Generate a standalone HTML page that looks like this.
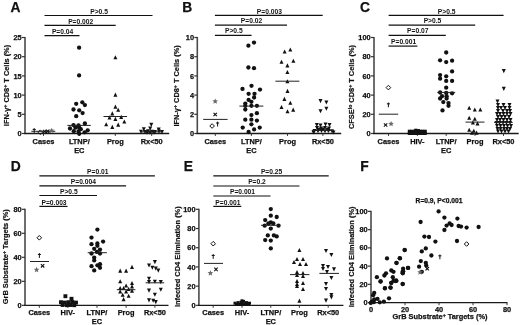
<!DOCTYPE html>
<html><head><meta charset="utf-8"><style>
html,body{margin:0;padding:0;background:#fff;}
svg{display:block;font-family:"Liberation Sans", sans-serif;filter:blur(0.3px);}
</style></head><body>
<svg width="520" height="325" viewBox="0 0 520 325">
<rect width="520" height="325" fill="#fff"/>
<text x="10.40" y="11.60" font-size="13.8" text-anchor="start" font-weight="bold" fill="#111" stroke="#111" stroke-width="0.25">A</text>
<text x="182.30" y="11.60" font-size="13.8" text-anchor="start" font-weight="bold" fill="#111" stroke="#111" stroke-width="0.25">B</text>
<text x="359.90" y="11.80" font-size="13.8" text-anchor="start" font-weight="bold" fill="#111" stroke="#111" stroke-width="0.25">C</text>
<text x="10.70" y="170.90" font-size="13.8" text-anchor="start" font-weight="bold" fill="#111" stroke="#111" stroke-width="0.25">D</text>
<text x="183.80" y="170.90" font-size="13.8" text-anchor="start" font-weight="bold" fill="#111" stroke="#111" stroke-width="0.25">E</text>
<text x="360.30" y="170.90" font-size="13.8" text-anchor="start" font-weight="bold" fill="#111" stroke="#111" stroke-width="0.25">F</text>
<line x1="25.00" y1="36.90" x2="25.00" y2="133.50" stroke="#4a4a4a" stroke-width="1.6"/>
<line x1="22.00" y1="133.50" x2="25.00" y2="133.50" stroke="#333" stroke-width="1.2"/>
<text x="21.70" y="136.10" font-size="7.4" text-anchor="end" font-weight="bold" fill="#111" stroke="#111" stroke-width="0.25">0</text>
<line x1="22.00" y1="114.30" x2="25.00" y2="114.30" stroke="#333" stroke-width="1.2"/>
<text x="21.70" y="116.90" font-size="7.4" text-anchor="end" font-weight="bold" fill="#111" stroke="#111" stroke-width="0.25">5</text>
<line x1="22.00" y1="95.10" x2="25.00" y2="95.10" stroke="#333" stroke-width="1.2"/>
<text x="21.70" y="97.70" font-size="7.4" text-anchor="end" font-weight="bold" fill="#111" stroke="#111" stroke-width="0.25">10</text>
<line x1="22.00" y1="75.90" x2="25.00" y2="75.90" stroke="#333" stroke-width="1.2"/>
<text x="21.70" y="78.50" font-size="7.4" text-anchor="end" font-weight="bold" fill="#111" stroke="#111" stroke-width="0.25">15</text>
<line x1="22.00" y1="56.70" x2="25.00" y2="56.70" stroke="#333" stroke-width="1.2"/>
<text x="21.70" y="59.30" font-size="7.4" text-anchor="end" font-weight="bold" fill="#111" stroke="#111" stroke-width="0.25">20</text>
<line x1="22.00" y1="37.50" x2="25.00" y2="37.50" stroke="#333" stroke-width="1.2"/>
<text x="21.70" y="40.10" font-size="7.4" text-anchor="end" font-weight="bold" fill="#111" stroke="#111" stroke-width="0.25">25</text>
<line x1="24.20" y1="133.50" x2="169.20" y2="133.50" stroke="#1a1a1a" stroke-width="1.3"/>
<line x1="43.50" y1="133.50" x2="43.50" y2="135.90" stroke="#333" stroke-width="1.0"/>
<text x="43.50" y="143.90" font-size="7.4" text-anchor="middle" font-weight="bold" fill="#111" stroke="#111" stroke-width="0.25">Cases</text>
<line x1="79.30" y1="133.50" x2="79.30" y2="135.90" stroke="#333" stroke-width="1.0"/>
<text x="79.30" y="143.90" font-size="7.4" text-anchor="middle" font-weight="bold" fill="#111" stroke="#111" stroke-width="0.25">LTNP/</text>
<text x="79.30" y="152.50" font-size="7.4" text-anchor="middle" font-weight="bold" fill="#111" stroke="#111" stroke-width="0.25">EC</text>
<line x1="115.30" y1="133.50" x2="115.30" y2="135.90" stroke="#333" stroke-width="1.0"/>
<text x="115.30" y="143.90" font-size="7.4" text-anchor="middle" font-weight="bold" fill="#111" stroke="#111" stroke-width="0.25">Prog</text>
<line x1="151.70" y1="133.50" x2="151.70" y2="135.90" stroke="#333" stroke-width="1.0"/>
<text x="151.70" y="143.90" font-size="7.4" text-anchor="middle" font-weight="bold" fill="#111" stroke="#111" stroke-width="0.25">Rx&lt;50</text>
<line x1="44.50" y1="15.50" x2="152.50" y2="15.50" stroke="#111" stroke-width="1.2"/>
<text x="99.10" y="13.60" font-size="6.7" text-anchor="middle" font-weight="bold" fill="#111" stroke="#111" stroke-width="0">P&gt;0.5</text>
<line x1="44.50" y1="25.40" x2="115.70" y2="25.40" stroke="#111" stroke-width="1.2"/>
<text x="80.70" y="23.50" font-size="6.7" text-anchor="middle" font-weight="bold" fill="#111" stroke="#111" stroke-width="0">P=0.002</text>
<line x1="44.50" y1="35.60" x2="79.50" y2="35.60" stroke="#111" stroke-width="1.2"/>
<text x="62.60" y="33.70" font-size="6.7" text-anchor="middle" font-weight="bold" fill="#111" stroke="#111" stroke-width="0">P=0.04</text>
<g transform="translate(8.50 85.50) rotate(-90) scale(1 0.92)"><text x="0" y="0" font-size="7.4" text-anchor="middle" font-weight="bold" fill="#111" stroke="#111" stroke-width="0.22">IFN-γ<tspan font-size="70%" baseline-shift="2.4">+</tspan> CD8<tspan font-size="70%" baseline-shift="2.4">+</tspan> T Cells (%)</text></g>
<line x1="31.30" y1="131.30" x2="55.30" y2="131.30" stroke="#222" stroke-width="1.0"/>
<path d="M34.20 128.10L34.20 132.90M32.66 129.44L35.74 129.44" stroke="#111" stroke-width="1.0"/>
<path d="M40.30 129.90L42.60 132.20L40.30 134.50L38.00 132.20Z" fill="none" stroke="#111" stroke-width="1.0"/>
<path d="M42.90 129.80L46.30 133.20M46.30 129.80L42.90 133.20" stroke="#111" stroke-width="1.1"/>
<path d="M46.00 129.60L49.40 133.00M49.40 129.60L46.00 133.00" stroke="#111" stroke-width="1.1"/>
<path d="M51.70 127.70L52.49 129.61L54.55 129.77L52.98 131.12L53.46 133.13L51.70 132.05L49.94 133.13L50.42 131.12L48.85 129.77L50.91 129.61Z" fill="#6a6a6a"/>
<circle cx="79.10" cy="47.70" r="2.15" fill="#111"/>
<circle cx="79.10" cy="75.40" r="2.15" fill="#111"/>
<circle cx="76.20" cy="103.80" r="2.15" fill="#111"/>
<circle cx="82.30" cy="102.30" r="2.15" fill="#111"/>
<circle cx="84.90" cy="105.10" r="2.15" fill="#111"/>
<circle cx="73.50" cy="109.50" r="2.15" fill="#111"/>
<circle cx="79.20" cy="110.30" r="2.15" fill="#111"/>
<circle cx="82.60" cy="113.10" r="2.15" fill="#111"/>
<circle cx="76.20" cy="116.20" r="2.15" fill="#111"/>
<circle cx="73.50" cy="125.10" r="2.15" fill="#111"/>
<circle cx="78.50" cy="125.40" r="2.15" fill="#111"/>
<circle cx="84.90" cy="123.50" r="2.15" fill="#111"/>
<circle cx="70.00" cy="128.50" r="2.15" fill="#111"/>
<circle cx="75.40" cy="127.70" r="2.15" fill="#111"/>
<circle cx="79.20" cy="127.70" r="2.15" fill="#111"/>
<circle cx="80.80" cy="129.20" r="2.15" fill="#111"/>
<circle cx="87.70" cy="130.30" r="2.15" fill="#111"/>
<circle cx="73.80" cy="131.20" r="2.15" fill="#111"/>
<circle cx="78.50" cy="131.50" r="2.15" fill="#111"/>
<circle cx="84.60" cy="132.30" r="2.15" fill="#111"/>
<circle cx="79.20" cy="133.80" r="2.15" fill="#111"/>
<line x1="67.40" y1="125.40" x2="90.80" y2="125.40" stroke="#222" stroke-width="1.0"/>
<path d="M113.40 59.24L117.40 59.24L115.40 55.16Z" fill="#111"/>
<path d="M113.40 96.64L117.40 96.64L115.40 92.56Z" fill="#111"/>
<path d="M113.40 108.64L117.40 108.64L115.40 104.56Z" fill="#111"/>
<path d="M116.20 111.74L120.20 111.74L118.20 107.66Z" fill="#111"/>
<path d="M110.30 115.44L114.30 115.44L112.30 111.36Z" fill="#111"/>
<path d="M107.50 119.44L111.50 119.44L109.50 115.36Z" fill="#111"/>
<path d="M113.40 120.94L117.40 120.94L115.40 116.86Z" fill="#111"/>
<path d="M119.20 118.94L123.20 118.94L121.20 114.86Z" fill="#111"/>
<path d="M122.30 123.54L126.30 123.54L124.30 119.46Z" fill="#111"/>
<path d="M104.20 126.24L108.20 126.24L106.20 122.16Z" fill="#111"/>
<path d="M116.20 126.64L120.20 126.64L118.20 122.56Z" fill="#111"/>
<path d="M110.30 128.94L114.30 128.94L112.30 124.86Z" fill="#111"/>
<line x1="103.50" y1="116.50" x2="127.10" y2="116.50" stroke="#222" stroke-width="1.0"/>
<path d="M149.30 122.86L153.30 122.86L151.30 126.94Z" fill="#111"/>
<path d="M141.80 127.26L145.80 127.26L143.80 131.34Z" fill="#111"/>
<path d="M148.20 126.56L152.20 126.56L150.20 130.64Z" fill="#111"/>
<path d="M156.70 127.56L160.70 127.56L158.70 131.64Z" fill="#111"/>
<path d="M139.00 129.76L143.00 129.76L141.00 133.84Z" fill="#111"/>
<path d="M143.00 129.96L147.00 129.96L145.00 134.04Z" fill="#111"/>
<path d="M146.00 129.36L150.00 129.36L148.00 133.44Z" fill="#111"/>
<path d="M150.00 129.76L154.00 129.76L152.00 133.84Z" fill="#111"/>
<path d="M153.00 129.96L157.00 129.96L155.00 134.04Z" fill="#111"/>
<path d="M157.00 129.56L161.00 129.56L159.00 133.64Z" fill="#111"/>
<path d="M160.00 129.96L164.00 129.96L162.00 134.04Z" fill="#111"/>
<path d="M148.00 130.56L152.00 130.56L150.00 134.64Z" fill="#111"/>
<path d="M145.00 130.76L149.00 130.76L147.00 134.84Z" fill="#111"/>
<path d="M152.00 130.56L156.00 130.56L154.00 134.64Z" fill="#111"/>
<line x1="140.50" y1="131.80" x2="162.50" y2="131.80" stroke="#222" stroke-width="1.0"/>
<line x1="197.30" y1="36.90" x2="197.30" y2="133.50" stroke="#4a4a4a" stroke-width="1.6"/>
<line x1="194.30" y1="133.50" x2="197.30" y2="133.50" stroke="#333" stroke-width="1.2"/>
<text x="194.00" y="136.10" font-size="7.4" text-anchor="end" font-weight="bold" fill="#111" stroke="#111" stroke-width="0.25">0</text>
<line x1="194.30" y1="114.30" x2="197.30" y2="114.30" stroke="#333" stroke-width="1.2"/>
<text x="194.00" y="116.90" font-size="7.4" text-anchor="end" font-weight="bold" fill="#111" stroke="#111" stroke-width="0.25">2</text>
<line x1="194.30" y1="95.10" x2="197.30" y2="95.10" stroke="#333" stroke-width="1.2"/>
<text x="194.00" y="97.70" font-size="7.4" text-anchor="end" font-weight="bold" fill="#111" stroke="#111" stroke-width="0.25">4</text>
<line x1="194.30" y1="75.90" x2="197.30" y2="75.90" stroke="#333" stroke-width="1.2"/>
<text x="194.00" y="78.50" font-size="7.4" text-anchor="end" font-weight="bold" fill="#111" stroke="#111" stroke-width="0.25">6</text>
<line x1="194.30" y1="56.70" x2="197.30" y2="56.70" stroke="#333" stroke-width="1.2"/>
<text x="194.00" y="59.30" font-size="7.4" text-anchor="end" font-weight="bold" fill="#111" stroke="#111" stroke-width="0.25">8</text>
<line x1="194.30" y1="37.50" x2="197.30" y2="37.50" stroke="#333" stroke-width="1.2"/>
<text x="194.00" y="40.10" font-size="7.4" text-anchor="end" font-weight="bold" fill="#111" stroke="#111" stroke-width="0.25">10</text>
<line x1="196.50" y1="133.50" x2="341.20" y2="133.50" stroke="#1a1a1a" stroke-width="1.3"/>
<line x1="215.30" y1="133.50" x2="215.30" y2="135.90" stroke="#333" stroke-width="1.0"/>
<text x="215.30" y="143.90" font-size="7.4" text-anchor="middle" font-weight="bold" fill="#111" stroke="#111" stroke-width="0.25">Cases</text>
<line x1="251.40" y1="133.50" x2="251.40" y2="135.90" stroke="#333" stroke-width="1.0"/>
<text x="251.40" y="143.90" font-size="7.4" text-anchor="middle" font-weight="bold" fill="#111" stroke="#111" stroke-width="0.25">LTNP/</text>
<text x="251.40" y="152.50" font-size="7.4" text-anchor="middle" font-weight="bold" fill="#111" stroke="#111" stroke-width="0.25">EC</text>
<line x1="287.50" y1="133.50" x2="287.50" y2="135.90" stroke="#333" stroke-width="1.0"/>
<text x="287.50" y="143.90" font-size="7.4" text-anchor="middle" font-weight="bold" fill="#111" stroke="#111" stroke-width="0.25">Prog</text>
<line x1="322.90" y1="133.50" x2="322.90" y2="135.90" stroke="#333" stroke-width="1.0"/>
<text x="322.90" y="143.90" font-size="7.4" text-anchor="middle" font-weight="bold" fill="#111" stroke="#111" stroke-width="0.25">Rx&lt;50</text>
<line x1="214.90" y1="15.40" x2="322.70" y2="15.40" stroke="#111" stroke-width="1.2"/>
<text x="269.40" y="13.50" font-size="6.7" text-anchor="middle" font-weight="bold" fill="#111" stroke="#111" stroke-width="0">P=0.003</text>
<line x1="214.90" y1="25.20" x2="287.00" y2="25.20" stroke="#111" stroke-width="1.2"/>
<text x="251.55" y="23.30" font-size="6.7" text-anchor="middle" font-weight="bold" fill="#111" stroke="#111" stroke-width="0">P=0.02</text>
<line x1="214.90" y1="35.30" x2="251.60" y2="35.30" stroke="#111" stroke-width="1.2"/>
<text x="233.85" y="33.40" font-size="6.7" text-anchor="middle" font-weight="bold" fill="#111" stroke="#111" stroke-width="0">P&gt;0.5</text>
<g transform="translate(179.30 85.90) rotate(-90) scale(1 0.92)"><text x="0" y="0" font-size="7.4" text-anchor="middle" font-weight="bold" fill="#111" stroke="#111" stroke-width="0.22">IFN-γ<tspan font-size="70%" baseline-shift="2.4">+</tspan> CD8<tspan font-size="70%" baseline-shift="2.4">+</tspan> T Cells (%)</text></g>
<path d="M215.20 98.40L215.99 100.31L218.05 100.47L216.48 101.82L216.96 103.83L215.20 102.75L213.44 103.83L213.92 101.82L212.35 100.47L214.41 100.31Z" fill="#6a6a6a"/>
<path d="M213.50 112.80L216.90 116.20M216.90 112.80L213.50 116.20" stroke="#111" stroke-width="1.1"/>
<line x1="203.20" y1="119.40" x2="227.60" y2="119.40" stroke="#222" stroke-width="1.0"/>
<path d="M212.10 123.70L214.40 126.00L212.10 128.30L209.80 126.00Z" fill="none" stroke="#111" stroke-width="1.0"/>
<path d="M217.60 121.70L217.60 126.50M216.06 123.04L219.14 123.04" stroke="#111" stroke-width="1.0"/>
<circle cx="248.40" cy="45.70" r="2.15" fill="#111"/>
<circle cx="254.00" cy="42.60" r="2.15" fill="#111"/>
<circle cx="248.40" cy="67.50" r="2.15" fill="#111"/>
<circle cx="254.00" cy="68.20" r="2.15" fill="#111"/>
<circle cx="251.50" cy="85.80" r="2.15" fill="#111"/>
<circle cx="242.50" cy="88.90" r="2.15" fill="#111"/>
<circle cx="260.00" cy="89.60" r="2.15" fill="#111"/>
<circle cx="248.60" cy="93.80" r="2.15" fill="#111"/>
<circle cx="254.50" cy="93.80" r="2.15" fill="#111"/>
<circle cx="254.10" cy="97.50" r="2.15" fill="#111"/>
<circle cx="248.60" cy="99.90" r="2.15" fill="#111"/>
<circle cx="251.40" cy="101.80" r="2.15" fill="#111"/>
<circle cx="245.30" cy="103.60" r="2.15" fill="#111"/>
<circle cx="251.40" cy="105.80" r="2.15" fill="#111"/>
<circle cx="256.90" cy="105.80" r="2.15" fill="#111"/>
<circle cx="245.30" cy="105.80" r="2.15" fill="#111"/>
<circle cx="245.30" cy="109.50" r="2.15" fill="#111"/>
<circle cx="251.40" cy="115.10" r="2.15" fill="#111"/>
<circle cx="256.90" cy="113.20" r="2.15" fill="#111"/>
<circle cx="245.30" cy="119.70" r="2.15" fill="#111"/>
<circle cx="251.40" cy="119.70" r="2.15" fill="#111"/>
<circle cx="256.90" cy="120.60" r="2.15" fill="#111"/>
<circle cx="251.40" cy="124.30" r="2.15" fill="#111"/>
<circle cx="242.70" cy="127.60" r="2.15" fill="#111"/>
<circle cx="259.70" cy="127.60" r="2.15" fill="#111"/>
<circle cx="254.10" cy="129.40" r="2.15" fill="#111"/>
<circle cx="248.60" cy="132.00" r="2.15" fill="#111"/>
<line x1="239.40" y1="106.10" x2="263.40" y2="106.10" stroke="#222" stroke-width="1.0"/>
<path d="M282.60 53.54L286.60 53.54L284.60 49.46Z" fill="#111"/>
<path d="M288.30 51.54L292.30 51.54L290.30 47.46Z" fill="#111"/>
<path d="M279.50 63.84L283.50 63.84L281.50 59.76Z" fill="#111"/>
<path d="M291.40 62.84L295.40 62.84L293.40 58.76Z" fill="#111"/>
<path d="M285.40 67.44L289.40 67.44L287.40 63.36Z" fill="#111"/>
<path d="M285.40 74.04L289.40 74.04L287.40 69.96Z" fill="#111"/>
<path d="M285.40 83.24L289.40 83.24L287.40 79.16Z" fill="#111"/>
<path d="M285.50 92.94L289.50 92.94L287.50 88.86Z" fill="#111"/>
<path d="M282.40 100.94L286.40 100.94L284.40 96.86Z" fill="#111"/>
<path d="M288.30 104.84L292.30 104.84L290.30 100.76Z" fill="#111"/>
<path d="M279.50 109.04L283.50 109.04L281.50 104.96Z" fill="#111"/>
<path d="M291.20 111.64L295.20 111.64L293.20 107.56Z" fill="#111"/>
<path d="M285.50 113.34L289.50 113.34L287.50 109.26Z" fill="#111"/>
<line x1="275.40" y1="81.20" x2="299.40" y2="81.20" stroke="#222" stroke-width="1.0"/>
<path d="M318.50 99.06L322.50 99.06L320.50 103.14Z" fill="#111"/>
<path d="M324.40 100.46L328.40 100.46L326.40 104.54Z" fill="#111"/>
<path d="M324.40 106.66L328.40 106.66L326.40 110.74Z" fill="#111"/>
<path d="M318.50 109.26L322.50 109.26L320.50 113.34Z" fill="#111"/>
<path d="M314.80 122.96L318.80 122.96L316.80 127.04Z" fill="#111"/>
<path d="M318.50 123.46L322.50 123.46L320.50 127.54Z" fill="#111"/>
<path d="M323.50 122.46L327.50 122.46L325.50 126.54Z" fill="#111"/>
<path d="M327.50 122.96L331.50 122.96L329.50 127.04Z" fill="#111"/>
<path d="M315.00 125.96L319.00 125.96L317.00 130.04Z" fill="#111"/>
<path d="M319.00 126.46L323.00 126.46L321.00 130.54Z" fill="#111"/>
<path d="M323.00 125.96L327.00 125.96L325.00 130.04Z" fill="#111"/>
<path d="M327.00 126.46L331.00 126.46L329.00 130.54Z" fill="#111"/>
<path d="M312.50 128.96L316.50 128.96L314.50 133.04Z" fill="#111"/>
<path d="M316.00 129.16L320.00 129.16L318.00 133.24Z" fill="#111"/>
<path d="M319.50 128.96L323.50 128.96L321.50 133.04Z" fill="#111"/>
<path d="M323.00 129.16L327.00 129.16L325.00 133.24Z" fill="#111"/>
<path d="M326.50 128.96L330.50 128.96L328.50 133.04Z" fill="#111"/>
<path d="M330.00 129.26L334.00 129.26L332.00 133.34Z" fill="#111"/>
<path d="M321.00 127.46L325.00 127.46L323.00 131.54Z" fill="#111"/>
<path d="M316.50 127.76L320.50 127.76L318.50 131.84Z" fill="#111"/>
<path d="M325.50 127.76L329.50 127.76L327.50 131.84Z" fill="#111"/>
<path d="M311.50 130.46L315.50 130.46L313.50 134.54Z" fill="#111"/>
<path d="M331.50 130.46L335.50 130.46L333.50 134.54Z" fill="#111"/>
<line x1="311.90" y1="130.50" x2="333.90" y2="130.50" stroke="#222" stroke-width="1.0"/>
<line x1="374.00" y1="36.90" x2="374.00" y2="133.50" stroke="#4a4a4a" stroke-width="1.6"/>
<line x1="371.00" y1="133.50" x2="374.00" y2="133.50" stroke="#333" stroke-width="1.2"/>
<text x="370.70" y="136.10" font-size="7.4" text-anchor="end" font-weight="bold" fill="#111" stroke="#111" stroke-width="0.25">0</text>
<line x1="371.00" y1="114.30" x2="374.00" y2="114.30" stroke="#333" stroke-width="1.2"/>
<text x="370.70" y="116.90" font-size="7.4" text-anchor="end" font-weight="bold" fill="#111" stroke="#111" stroke-width="0.25">20</text>
<line x1="371.00" y1="95.10" x2="374.00" y2="95.10" stroke="#333" stroke-width="1.2"/>
<text x="370.70" y="97.70" font-size="7.4" text-anchor="end" font-weight="bold" fill="#111" stroke="#111" stroke-width="0.25">40</text>
<line x1="371.00" y1="75.90" x2="374.00" y2="75.90" stroke="#333" stroke-width="1.2"/>
<text x="370.70" y="78.50" font-size="7.4" text-anchor="end" font-weight="bold" fill="#111" stroke="#111" stroke-width="0.25">60</text>
<line x1="371.00" y1="56.70" x2="374.00" y2="56.70" stroke="#333" stroke-width="1.2"/>
<text x="370.70" y="59.30" font-size="7.4" text-anchor="end" font-weight="bold" fill="#111" stroke="#111" stroke-width="0.25">80</text>
<line x1="371.00" y1="37.50" x2="374.00" y2="37.50" stroke="#333" stroke-width="1.2"/>
<text x="370.70" y="40.10" font-size="7.4" text-anchor="end" font-weight="bold" fill="#111" stroke="#111" stroke-width="0.25">100</text>
<line x1="373.20" y1="133.50" x2="518.70" y2="133.50" stroke="#1a1a1a" stroke-width="1.3"/>
<line x1="388.50" y1="133.50" x2="388.50" y2="135.90" stroke="#333" stroke-width="1.0"/>
<text x="388.50" y="143.90" font-size="7.4" text-anchor="middle" font-weight="bold" fill="#111" stroke="#111" stroke-width="0.25">Cases</text>
<line x1="417.40" y1="133.50" x2="417.40" y2="135.90" stroke="#333" stroke-width="1.0"/>
<text x="417.40" y="143.90" font-size="7.4" text-anchor="middle" font-weight="bold" fill="#111" stroke="#111" stroke-width="0.25">HIV-</text>
<line x1="446.20" y1="133.50" x2="446.20" y2="135.90" stroke="#333" stroke-width="1.0"/>
<text x="446.20" y="143.90" font-size="7.4" text-anchor="middle" font-weight="bold" fill="#111" stroke="#111" stroke-width="0.25">LTNP/</text>
<text x="446.20" y="152.50" font-size="7.4" text-anchor="middle" font-weight="bold" fill="#111" stroke="#111" stroke-width="0.25">EC</text>
<line x1="475.00" y1="133.50" x2="475.00" y2="135.90" stroke="#333" stroke-width="1.0"/>
<text x="475.00" y="143.90" font-size="7.4" text-anchor="middle" font-weight="bold" fill="#111" stroke="#111" stroke-width="0.25">Prog</text>
<line x1="503.50" y1="133.50" x2="503.50" y2="135.90" stroke="#333" stroke-width="1.0"/>
<text x="503.50" y="143.90" font-size="7.4" text-anchor="middle" font-weight="bold" fill="#111" stroke="#111" stroke-width="0.25">Rx&lt;50</text>
<line x1="388.60" y1="15.40" x2="503.60" y2="15.40" stroke="#111" stroke-width="1.2"/>
<text x="446.70" y="13.50" font-size="6.7" text-anchor="middle" font-weight="bold" fill="#111" stroke="#111" stroke-width="0">P&gt;0.5</text>
<line x1="388.60" y1="25.20" x2="475.20" y2="25.20" stroke="#111" stroke-width="1.2"/>
<text x="432.50" y="23.30" font-size="6.7" text-anchor="middle" font-weight="bold" fill="#111" stroke="#111" stroke-width="0">P&gt;0.5</text>
<line x1="388.60" y1="35.30" x2="445.80" y2="35.30" stroke="#111" stroke-width="1.2"/>
<text x="417.80" y="33.40" font-size="6.7" text-anchor="middle" font-weight="bold" fill="#111" stroke="#111" stroke-width="0">P=0.07</text>
<line x1="388.60" y1="46.10" x2="417.40" y2="46.10" stroke="#111" stroke-width="1.2"/>
<text x="403.60" y="44.20" font-size="6.7" text-anchor="middle" font-weight="bold" fill="#111" stroke="#111" stroke-width="0">P=0.001</text>
<g transform="translate(354.00 87.00) rotate(-90) scale(1 0.92)"><text x="0" y="0" font-size="7.4" text-anchor="middle" font-weight="bold" fill="#111" stroke="#111" stroke-width="0.22">CFSE<tspan font-size="70%" baseline-shift="2.4">lo</tspan> CD8<tspan font-size="70%" baseline-shift="2.4">+</tspan> T Cells (%)</text></g>
<path d="M388.40 85.30L390.70 87.60L388.40 89.90L386.10 87.60Z" fill="none" stroke="#111" stroke-width="1.0"/>
<path d="M388.40 102.50L388.40 107.30M386.86 103.84L389.94 103.84" stroke="#111" stroke-width="1.0"/>
<line x1="378.80" y1="114.20" x2="398.20" y2="114.20" stroke="#222" stroke-width="1.0"/>
<path d="M383.90 123.30L387.30 126.70M387.30 123.30L383.90 126.70" stroke="#111" stroke-width="1.1"/>
<path d="M391.10 120.90L391.89 122.81L393.95 122.97L392.38 124.32L392.86 126.33L391.10 125.25L389.34 126.33L389.82 124.32L388.25 122.97L390.31 122.81Z" fill="#6a6a6a"/>
<rect x="407.80" y="129.70" width="3.2" height="3.2" fill="#111"/>
<rect x="410.43" y="129.70" width="3.2" height="3.2" fill="#111"/>
<rect x="413.06" y="129.70" width="3.2" height="3.2" fill="#111"/>
<rect x="415.69" y="129.70" width="3.2" height="3.2" fill="#111"/>
<rect x="418.32" y="129.70" width="3.2" height="3.2" fill="#111"/>
<rect x="420.95" y="129.70" width="3.2" height="3.2" fill="#111"/>
<rect x="423.58" y="129.70" width="3.2" height="3.2" fill="#111"/>
<rect x="407.80" y="131.80" width="3.2" height="3.2" fill="#111"/>
<rect x="410.43" y="131.80" width="3.2" height="3.2" fill="#111"/>
<rect x="413.06" y="131.80" width="3.2" height="3.2" fill="#111"/>
<rect x="415.69" y="131.80" width="3.2" height="3.2" fill="#111"/>
<rect x="418.32" y="131.80" width="3.2" height="3.2" fill="#111"/>
<rect x="420.95" y="131.80" width="3.2" height="3.2" fill="#111"/>
<rect x="423.58" y="131.80" width="3.2" height="3.2" fill="#111"/>
<rect x="414.20" y="128.70" width="3.2" height="3.2" fill="#111"/>
<rect x="417.00" y="129.10" width="3.0" height="3.0" fill="#111"/>
<circle cx="446.20" cy="52.50" r="2.15" fill="#111"/>
<circle cx="440.10" cy="60.30" r="2.15" fill="#111"/>
<circle cx="446.20" cy="62.10" r="2.15" fill="#111"/>
<circle cx="452.10" cy="60.70" r="2.15" fill="#111"/>
<circle cx="452.10" cy="71.40" r="2.15" fill="#111"/>
<circle cx="440.10" cy="75.10" r="2.15" fill="#111"/>
<circle cx="440.10" cy="78.70" r="2.15" fill="#111"/>
<circle cx="446.20" cy="76.30" r="2.15" fill="#111"/>
<circle cx="446.20" cy="80.90" r="2.15" fill="#111"/>
<circle cx="452.10" cy="80.90" r="2.15" fill="#111"/>
<circle cx="446.20" cy="87.70" r="2.15" fill="#111"/>
<circle cx="440.10" cy="92.50" r="2.15" fill="#111"/>
<circle cx="446.20" cy="92.90" r="2.15" fill="#111"/>
<circle cx="452.10" cy="93.30" r="2.15" fill="#111"/>
<circle cx="442.00" cy="96.20" r="2.15" fill="#111"/>
<circle cx="446.60" cy="96.20" r="2.15" fill="#111"/>
<circle cx="440.10" cy="98.50" r="2.15" fill="#111"/>
<circle cx="446.60" cy="98.50" r="2.15" fill="#111"/>
<circle cx="443.30" cy="102.10" r="2.15" fill="#111"/>
<circle cx="448.50" cy="103.10" r="2.15" fill="#111"/>
<circle cx="448.50" cy="105.80" r="2.15" fill="#111"/>
<circle cx="442.50" cy="110.40" r="2.15" fill="#111"/>
<line x1="437.20" y1="92.40" x2="455.20" y2="92.40" stroke="#222" stroke-width="1.0"/>
<path d="M467.20 109.74L471.20 109.74L469.20 105.66Z" fill="#111"/>
<path d="M472.80 111.54L476.80 111.54L474.80 107.46Z" fill="#111"/>
<path d="M478.30 111.54L482.30 111.54L480.30 107.46Z" fill="#111"/>
<path d="M467.20 119.84L471.20 119.84L469.20 115.76Z" fill="#111"/>
<path d="M472.80 120.74L476.80 120.74L474.80 116.66Z" fill="#111"/>
<path d="M470.90 124.44L474.90 124.44L472.90 120.36Z" fill="#111"/>
<path d="M475.50 125.44L479.50 125.44L477.50 121.36Z" fill="#111"/>
<path d="M467.20 131.84L471.20 131.84L469.20 127.76Z" fill="#111"/>
<path d="M471.80 132.74L475.80 132.74L473.80 128.66Z" fill="#111"/>
<path d="M474.60 134.64L478.60 134.64L476.60 130.56Z" fill="#111"/>
<path d="M470.00 134.64L474.00 134.64L472.00 130.56Z" fill="#111"/>
<line x1="465.50" y1="122.10" x2="484.50" y2="122.10" stroke="#222" stroke-width="1.0"/>
<path d="M501.80 69.06L505.80 69.06L503.80 73.14Z" fill="#111"/>
<path d="M501.80 86.86L505.80 86.86L503.80 90.94Z" fill="#111"/>
<path d="M495.50 99.46L499.50 99.46L497.50 103.54Z" fill="#111"/>
<path d="M496.00 102.96L500.00 102.96L498.00 107.04Z" fill="#111"/>
<path d="M501.50 102.96L505.50 102.96L503.50 107.04Z" fill="#111"/>
<path d="M507.50 102.96L511.50 102.96L509.50 107.04Z" fill="#111"/>
<path d="M496.00 105.96L500.00 105.96L498.00 110.04Z" fill="#111"/>
<path d="M499.00 105.96L503.00 105.96L501.00 110.04Z" fill="#111"/>
<path d="M503.00 105.96L507.00 105.96L505.00 110.04Z" fill="#111"/>
<path d="M507.50 105.96L511.50 105.96L509.50 110.04Z" fill="#111"/>
<path d="M496.00 108.96L500.00 108.96L498.00 113.04Z" fill="#111"/>
<path d="M501.00 108.96L505.00 108.96L503.00 113.04Z" fill="#111"/>
<path d="M505.00 108.96L509.00 108.96L507.00 113.04Z" fill="#111"/>
<path d="M508.00 108.96L512.00 108.96L510.00 113.04Z" fill="#111"/>
<path d="M495.00 111.96L499.00 111.96L497.00 116.04Z" fill="#111"/>
<path d="M498.00 111.96L502.00 111.96L500.00 116.04Z" fill="#111"/>
<path d="M501.50 111.96L505.50 111.96L503.50 116.04Z" fill="#111"/>
<path d="M505.00 111.96L509.00 111.96L507.00 116.04Z" fill="#111"/>
<path d="M508.50 111.96L512.50 111.96L510.50 116.04Z" fill="#111"/>
<path d="M496.00 114.96L500.00 114.96L498.00 119.04Z" fill="#111"/>
<path d="M499.50 114.96L503.50 114.96L501.50 119.04Z" fill="#111"/>
<path d="M503.00 114.96L507.00 114.96L505.00 119.04Z" fill="#111"/>
<path d="M507.00 114.96L511.00 114.96L509.00 119.04Z" fill="#111"/>
<path d="M495.00 117.96L499.00 117.96L497.00 122.04Z" fill="#111"/>
<path d="M498.00 117.96L502.00 117.96L500.00 122.04Z" fill="#111"/>
<path d="M501.50 117.96L505.50 117.96L503.50 122.04Z" fill="#111"/>
<path d="M505.00 117.96L509.00 117.96L507.00 122.04Z" fill="#111"/>
<path d="M508.50 117.96L512.50 117.96L510.50 122.04Z" fill="#111"/>
<path d="M494.50 120.96L498.50 120.96L496.50 125.04Z" fill="#111"/>
<path d="M497.50 120.96L501.50 120.96L499.50 125.04Z" fill="#111"/>
<path d="M501.00 120.96L505.00 120.96L503.00 125.04Z" fill="#111"/>
<path d="M504.50 120.96L508.50 120.96L506.50 125.04Z" fill="#111"/>
<path d="M508.00 120.96L512.00 120.96L510.00 125.04Z" fill="#111"/>
<path d="M495.00 123.96L499.00 123.96L497.00 128.04Z" fill="#111"/>
<path d="M498.50 123.96L502.50 123.96L500.50 128.04Z" fill="#111"/>
<path d="M502.00 123.96L506.00 123.96L504.00 128.04Z" fill="#111"/>
<path d="M505.50 123.96L509.50 123.96L507.50 128.04Z" fill="#111"/>
<path d="M509.00 123.96L513.00 123.96L511.00 128.04Z" fill="#111"/>
<path d="M495.50 126.96L499.50 126.96L497.50 131.04Z" fill="#111"/>
<path d="M498.50 126.96L502.50 126.96L500.50 131.04Z" fill="#111"/>
<path d="M502.00 126.96L506.00 126.96L504.00 131.04Z" fill="#111"/>
<path d="M505.00 126.96L509.00 126.96L507.00 131.04Z" fill="#111"/>
<path d="M508.00 126.96L512.00 126.96L510.00 131.04Z" fill="#111"/>
<path d="M496.00 129.46L500.00 129.46L498.00 133.54Z" fill="#111"/>
<path d="M499.50 129.46L503.50 129.46L501.50 133.54Z" fill="#111"/>
<path d="M503.00 129.46L507.00 129.46L505.00 133.54Z" fill="#111"/>
<path d="M506.50 129.46L510.50 129.46L508.50 133.54Z" fill="#111"/>
<line x1="494.10" y1="122.40" x2="512.70" y2="122.40" stroke="#222" stroke-width="1.0"/>
<line x1="25.00" y1="208.70" x2="25.00" y2="305.35" stroke="#4a4a4a" stroke-width="1.6"/>
<line x1="22.00" y1="305.35" x2="25.00" y2="305.35" stroke="#333" stroke-width="1.2"/>
<text x="21.70" y="307.95" font-size="7.4" text-anchor="end" font-weight="bold" fill="#111" stroke="#111" stroke-width="0.25">0</text>
<line x1="22.00" y1="281.34" x2="25.00" y2="281.34" stroke="#333" stroke-width="1.2"/>
<text x="21.70" y="283.94" font-size="7.4" text-anchor="end" font-weight="bold" fill="#111" stroke="#111" stroke-width="0.25">20</text>
<line x1="22.00" y1="257.33" x2="25.00" y2="257.33" stroke="#333" stroke-width="1.2"/>
<text x="21.70" y="259.93" font-size="7.4" text-anchor="end" font-weight="bold" fill="#111" stroke="#111" stroke-width="0.25">40</text>
<line x1="22.00" y1="233.31" x2="25.00" y2="233.31" stroke="#333" stroke-width="1.2"/>
<text x="21.70" y="235.91" font-size="7.4" text-anchor="end" font-weight="bold" fill="#111" stroke="#111" stroke-width="0.25">60</text>
<line x1="22.00" y1="209.30" x2="25.00" y2="209.30" stroke="#333" stroke-width="1.2"/>
<text x="21.70" y="211.90" font-size="7.4" text-anchor="end" font-weight="bold" fill="#111" stroke="#111" stroke-width="0.25">80</text>
<line x1="24.20" y1="305.35" x2="168.50" y2="305.35" stroke="#1a1a1a" stroke-width="1.3"/>
<line x1="39.30" y1="305.35" x2="39.30" y2="307.75" stroke="#333" stroke-width="1.0"/>
<text x="39.30" y="315.20" font-size="7.4" text-anchor="middle" font-weight="bold" fill="#111" stroke="#111" stroke-width="0.25">Cases</text>
<line x1="67.80" y1="305.35" x2="67.80" y2="307.75" stroke="#333" stroke-width="1.0"/>
<text x="67.80" y="315.20" font-size="7.4" text-anchor="middle" font-weight="bold" fill="#111" stroke="#111" stroke-width="0.25">HIV-</text>
<line x1="97.00" y1="305.35" x2="97.00" y2="307.75" stroke="#333" stroke-width="1.0"/>
<text x="97.00" y="315.20" font-size="7.4" text-anchor="middle" font-weight="bold" fill="#111" stroke="#111" stroke-width="0.25">LTNP/</text>
<text x="97.00" y="323.80" font-size="7.4" text-anchor="middle" font-weight="bold" fill="#111" stroke="#111" stroke-width="0.25">EC</text>
<line x1="126.10" y1="305.35" x2="126.10" y2="307.75" stroke="#333" stroke-width="1.0"/>
<text x="126.10" y="315.20" font-size="7.4" text-anchor="middle" font-weight="bold" fill="#111" stroke="#111" stroke-width="0.25">Prog</text>
<line x1="154.90" y1="305.35" x2="154.90" y2="307.75" stroke="#333" stroke-width="1.0"/>
<text x="154.90" y="315.20" font-size="7.4" text-anchor="middle" font-weight="bold" fill="#111" stroke="#111" stroke-width="0.25">Rx&lt;50</text>
<line x1="39.40" y1="175.90" x2="154.90" y2="175.90" stroke="#111" stroke-width="1.2"/>
<text x="97.75" y="174.00" font-size="6.7" text-anchor="middle" font-weight="bold" fill="#111" stroke="#111" stroke-width="0">P=0.01</text>
<line x1="39.40" y1="185.90" x2="126.10" y2="185.90" stroke="#111" stroke-width="1.2"/>
<text x="83.35" y="184.00" font-size="6.7" text-anchor="middle" font-weight="bold" fill="#111" stroke="#111" stroke-width="0">P=0.004</text>
<line x1="39.40" y1="195.50" x2="97.00" y2="195.50" stroke="#111" stroke-width="1.2"/>
<text x="68.80" y="193.60" font-size="6.7" text-anchor="middle" font-weight="bold" fill="#111" stroke="#111" stroke-width="0">P&gt;0.5</text>
<line x1="39.40" y1="206.40" x2="67.50" y2="206.40" stroke="#111" stroke-width="1.2"/>
<text x="54.05" y="204.50" font-size="6.7" text-anchor="middle" font-weight="bold" fill="#111" stroke="#111" stroke-width="0">P=0.003</text>
<g transform="translate(8.20 256.70) rotate(-90) scale(1 0.92)"><text x="0" y="0" font-size="7.4" text-anchor="middle" font-weight="bold" fill="#111" stroke="#111" stroke-width="0.22">GrB Substrate<tspan font-size="70%" baseline-shift="2.4">+</tspan> Targets (%)</text></g>
<path d="M39.30 235.50L41.60 237.80L39.30 240.10L37.00 237.80Z" fill="none" stroke="#111" stroke-width="1.0"/>
<path d="M39.40 253.10L39.40 257.90M37.86 254.44L40.94 254.44" stroke="#111" stroke-width="1.0"/>
<line x1="30.00" y1="261.50" x2="49.00" y2="261.50" stroke="#222" stroke-width="1.0"/>
<path d="M40.90 264.10L44.30 267.50M44.30 264.10L40.90 267.50" stroke="#111" stroke-width="1.1"/>
<path d="M36.60 266.80L37.39 268.71L39.45 268.87L37.88 270.22L38.36 272.23L36.60 271.15L34.84 272.23L35.32 270.22L33.75 268.87L35.81 268.71Z" fill="#6a6a6a"/>
<rect x="63.45" y="294.25" width="3.9" height="3.9" fill="#111"/>
<rect x="69.55" y="296.85" width="3.9" height="3.9" fill="#111"/>
<rect x="59.05" y="300.25" width="3.9" height="3.9" fill="#111"/>
<rect x="62.95" y="300.65" width="3.9" height="3.9" fill="#111"/>
<rect x="66.65" y="300.25" width="3.9" height="3.9" fill="#111"/>
<rect x="70.35" y="300.05" width="3.9" height="3.9" fill="#111"/>
<rect x="74.05" y="300.65" width="3.9" height="3.9" fill="#111"/>
<rect x="60.65" y="303.05" width="3.9" height="3.9" fill="#111"/>
<rect x="65.05" y="303.25" width="3.9" height="3.9" fill="#111"/>
<rect x="68.55" y="303.05" width="3.9" height="3.9" fill="#111"/>
<rect x="72.25" y="303.25" width="3.9" height="3.9" fill="#111"/>
<circle cx="97.40" cy="229.60" r="2.15" fill="#111"/>
<circle cx="91.50" cy="237.60" r="2.15" fill="#111"/>
<circle cx="103.10" cy="241.60" r="2.15" fill="#111"/>
<circle cx="91.50" cy="244.20" r="2.15" fill="#111"/>
<circle cx="97.40" cy="243.50" r="2.15" fill="#111"/>
<circle cx="97.40" cy="245.80" r="2.15" fill="#111"/>
<circle cx="94.20" cy="248.80" r="2.15" fill="#111"/>
<circle cx="100.00" cy="249.60" r="2.15" fill="#111"/>
<circle cx="91.50" cy="253.50" r="2.15" fill="#111"/>
<circle cx="96.90" cy="251.90" r="2.15" fill="#111"/>
<circle cx="100.00" cy="253.50" r="2.15" fill="#111"/>
<circle cx="94.20" cy="257.60" r="2.15" fill="#111"/>
<circle cx="94.20" cy="260.40" r="2.15" fill="#111"/>
<circle cx="91.50" cy="266.20" r="2.15" fill="#111"/>
<circle cx="97.40" cy="265.30" r="2.15" fill="#111"/>
<circle cx="100.00" cy="264.20" r="2.15" fill="#111"/>
<circle cx="100.00" cy="267.80" r="2.15" fill="#111"/>
<circle cx="94.20" cy="270.40" r="2.15" fill="#111"/>
<line x1="87.70" y1="252.70" x2="106.90" y2="252.70" stroke="#222" stroke-width="1.0"/>
<path d="M118.20 272.64L122.20 272.64L120.20 268.56Z" fill="#111"/>
<path d="M124.10 272.64L128.10 272.64L126.10 268.56Z" fill="#111"/>
<path d="M130.00 268.94L134.00 268.94L132.00 264.86Z" fill="#111"/>
<path d="M118.20 283.34L122.20 283.34L120.20 279.26Z" fill="#111"/>
<path d="M124.10 287.54L128.10 287.54L126.10 283.46Z" fill="#111"/>
<path d="M130.00 285.04L134.00 285.04L132.00 280.96Z" fill="#111"/>
<path d="M130.00 288.44L134.00 288.44L132.00 284.36Z" fill="#111"/>
<path d="M118.20 290.04L122.20 290.04L120.20 285.96Z" fill="#111"/>
<path d="M121.60 290.04L125.60 290.04L123.60 285.96Z" fill="#111"/>
<path d="M126.60 290.94L130.60 290.94L128.60 286.86Z" fill="#111"/>
<path d="M118.20 293.44L122.20 293.44L120.20 289.36Z" fill="#111"/>
<path d="M124.10 293.44L128.10 293.44L126.10 289.36Z" fill="#111"/>
<path d="M130.00 292.64L134.00 292.64L132.00 288.56Z" fill="#111"/>
<path d="M120.70 296.84L124.70 296.84L122.70 292.76Z" fill="#111"/>
<path d="M126.60 297.74L130.60 297.74L128.60 293.66Z" fill="#111"/>
<path d="M121.60 301.14L125.60 301.14L123.60 297.06Z" fill="#111"/>
<line x1="116.80" y1="289.70" x2="135.40" y2="289.70" stroke="#222" stroke-width="1.0"/>
<path d="M152.90 260.06L156.90 260.06L154.90 264.14Z" fill="#111"/>
<path d="M147.00 263.46L151.00 263.46L149.00 267.54Z" fill="#111"/>
<path d="M150.40 265.66L154.40 265.66L152.40 269.74Z" fill="#111"/>
<path d="M153.80 266.56L157.80 266.56L155.80 270.64Z" fill="#111"/>
<path d="M156.30 268.56L160.30 268.56L158.30 272.64Z" fill="#111"/>
<path d="M147.00 276.66L151.00 276.66L149.00 280.74Z" fill="#111"/>
<path d="M147.00 280.06L151.00 280.06L149.00 284.14Z" fill="#111"/>
<path d="M152.90 279.76L156.90 279.76L154.90 283.84Z" fill="#111"/>
<path d="M158.80 280.06L162.80 280.06L160.80 284.14Z" fill="#111"/>
<path d="M147.00 288.56L151.00 288.56L149.00 292.64Z" fill="#111"/>
<path d="M158.80 287.66L162.80 287.66L160.80 291.74Z" fill="#111"/>
<path d="M152.90 292.76L156.90 292.76L154.90 296.84Z" fill="#111"/>
<path d="M147.00 298.36L151.00 298.36L149.00 302.44Z" fill="#111"/>
<path d="M151.20 298.76L155.20 298.76L153.20 302.84Z" fill="#111"/>
<path d="M153.80 300.06L157.80 300.06L155.80 304.14Z" fill="#111"/>
<line x1="145.60" y1="282.80" x2="164.20" y2="282.80" stroke="#222" stroke-width="1.0"/>
<line x1="198.90" y1="208.70" x2="198.90" y2="305.35" stroke="#4a4a4a" stroke-width="1.6"/>
<line x1="195.90" y1="305.35" x2="198.90" y2="305.35" stroke="#333" stroke-width="1.2"/>
<text x="195.60" y="307.95" font-size="7.4" text-anchor="end" font-weight="bold" fill="#111" stroke="#111" stroke-width="0.25">0</text>
<line x1="195.90" y1="286.14" x2="198.90" y2="286.14" stroke="#333" stroke-width="1.2"/>
<text x="195.60" y="288.74" font-size="7.4" text-anchor="end" font-weight="bold" fill="#111" stroke="#111" stroke-width="0.25">20</text>
<line x1="195.90" y1="266.93" x2="198.90" y2="266.93" stroke="#333" stroke-width="1.2"/>
<text x="195.60" y="269.53" font-size="7.4" text-anchor="end" font-weight="bold" fill="#111" stroke="#111" stroke-width="0.25">40</text>
<line x1="195.90" y1="247.72" x2="198.90" y2="247.72" stroke="#333" stroke-width="1.2"/>
<text x="195.60" y="250.32" font-size="7.4" text-anchor="end" font-weight="bold" fill="#111" stroke="#111" stroke-width="0.25">60</text>
<line x1="195.90" y1="228.51" x2="198.90" y2="228.51" stroke="#333" stroke-width="1.2"/>
<text x="195.60" y="231.11" font-size="7.4" text-anchor="end" font-weight="bold" fill="#111" stroke="#111" stroke-width="0.25">80</text>
<line x1="195.90" y1="209.30" x2="198.90" y2="209.30" stroke="#333" stroke-width="1.2"/>
<text x="195.60" y="211.90" font-size="7.4" text-anchor="end" font-weight="bold" fill="#111" stroke="#111" stroke-width="0.25">100</text>
<line x1="198.10" y1="305.35" x2="343.40" y2="305.35" stroke="#1a1a1a" stroke-width="1.3"/>
<line x1="213.20" y1="305.35" x2="213.20" y2="307.75" stroke="#333" stroke-width="1.0"/>
<text x="213.20" y="315.20" font-size="7.4" text-anchor="middle" font-weight="bold" fill="#111" stroke="#111" stroke-width="0.25">Cases</text>
<line x1="242.00" y1="305.35" x2="242.00" y2="307.75" stroke="#333" stroke-width="1.0"/>
<text x="242.00" y="315.20" font-size="7.4" text-anchor="middle" font-weight="bold" fill="#111" stroke="#111" stroke-width="0.25">HIV-</text>
<line x1="270.80" y1="305.35" x2="270.80" y2="307.75" stroke="#333" stroke-width="1.0"/>
<text x="270.80" y="315.20" font-size="7.4" text-anchor="middle" font-weight="bold" fill="#111" stroke="#111" stroke-width="0.25">LTNP/</text>
<text x="270.80" y="323.80" font-size="7.4" text-anchor="middle" font-weight="bold" fill="#111" stroke="#111" stroke-width="0.25">EC</text>
<line x1="299.40" y1="305.35" x2="299.40" y2="307.75" stroke="#333" stroke-width="1.0"/>
<text x="299.40" y="315.20" font-size="7.4" text-anchor="middle" font-weight="bold" fill="#111" stroke="#111" stroke-width="0.25">Prog</text>
<line x1="328.20" y1="305.35" x2="328.20" y2="307.75" stroke="#333" stroke-width="1.0"/>
<text x="328.20" y="315.20" font-size="7.4" text-anchor="middle" font-weight="bold" fill="#111" stroke="#111" stroke-width="0.25">Rx&lt;50</text>
<line x1="213.30" y1="175.90" x2="328.70" y2="175.90" stroke="#111" stroke-width="1.2"/>
<text x="271.60" y="174.00" font-size="6.7" text-anchor="middle" font-weight="bold" fill="#111" stroke="#111" stroke-width="0">P=0.25</text>
<line x1="213.30" y1="186.00" x2="299.50" y2="186.00" stroke="#111" stroke-width="1.2"/>
<text x="257.00" y="184.10" font-size="6.7" text-anchor="middle" font-weight="bold" fill="#111" stroke="#111" stroke-width="0">P=0.2</text>
<line x1="213.30" y1="196.00" x2="270.50" y2="196.00" stroke="#111" stroke-width="1.2"/>
<text x="242.50" y="194.10" font-size="6.7" text-anchor="middle" font-weight="bold" fill="#111" stroke="#111" stroke-width="0">P=0.001</text>
<line x1="213.30" y1="206.40" x2="241.30" y2="206.40" stroke="#111" stroke-width="1.2"/>
<text x="227.90" y="204.50" font-size="6.7" text-anchor="middle" font-weight="bold" fill="#111" stroke="#111" stroke-width="0">P=0.001</text>
<g transform="translate(179.70 256.70) rotate(-90) scale(1 0.92)"><text x="0" y="0" font-size="7.4" text-anchor="middle" font-weight="bold" fill="#111" stroke="#111" stroke-width="0.22">Infected CD4 Elimination (%)</text></g>
<path d="M213.20 241.40L215.50 243.70L213.20 246.00L210.90 243.70Z" fill="none" stroke="#111" stroke-width="1.0"/>
<path d="M213.20 254.10L213.20 258.90M211.66 255.44L214.74 255.44" stroke="#111" stroke-width="1.0"/>
<line x1="204.00" y1="263.40" x2="223.00" y2="263.40" stroke="#222" stroke-width="1.0"/>
<path d="M214.30 267.70L217.70 271.10M217.70 267.70L214.30 271.10" stroke="#111" stroke-width="1.1"/>
<path d="M210.40 270.20L211.19 272.11L213.25 272.27L211.68 273.62L212.16 275.63L210.40 274.55L208.64 275.63L209.12 273.62L207.55 272.27L209.61 272.11Z" fill="#6a6a6a"/>
<rect x="233.50" y="301.70" width="3.0" height="3.0" fill="#111"/>
<rect x="236.50" y="301.10" width="3.0" height="3.0" fill="#111"/>
<rect x="239.50" y="300.70" width="3.0" height="3.0" fill="#111"/>
<rect x="242.00" y="299.90" width="3.0" height="3.0" fill="#111"/>
<rect x="245.00" y="301.10" width="3.0" height="3.0" fill="#111"/>
<rect x="248.00" y="301.70" width="3.0" height="3.0" fill="#111"/>
<rect x="235.00" y="302.90" width="3.0" height="3.0" fill="#111"/>
<rect x="238.00" y="302.70" width="3.0" height="3.0" fill="#111"/>
<rect x="241.00" y="302.90" width="3.0" height="3.0" fill="#111"/>
<rect x="244.00" y="302.70" width="3.0" height="3.0" fill="#111"/>
<rect x="247.00" y="302.90" width="3.0" height="3.0" fill="#111"/>
<rect x="240.50" y="299.30" width="3.0" height="3.0" fill="#111"/>
<circle cx="270.80" cy="209.10" r="2.15" fill="#111"/>
<circle cx="270.80" cy="215.70" r="2.15" fill="#111"/>
<circle cx="276.70" cy="217.00" r="2.15" fill="#111"/>
<circle cx="265.20" cy="220.10" r="2.15" fill="#111"/>
<circle cx="270.80" cy="222.50" r="2.15" fill="#111"/>
<circle cx="268.40" cy="223.50" r="2.15" fill="#111"/>
<circle cx="273.30" cy="223.50" r="2.15" fill="#111"/>
<circle cx="264.70" cy="225.70" r="2.15" fill="#111"/>
<circle cx="278.50" cy="225.70" r="2.15" fill="#111"/>
<circle cx="270.80" cy="228.60" r="2.15" fill="#111"/>
<circle cx="267.80" cy="235.40" r="2.15" fill="#111"/>
<circle cx="273.90" cy="235.40" r="2.15" fill="#111"/>
<circle cx="276.70" cy="236.40" r="2.15" fill="#111"/>
<circle cx="265.20" cy="240.10" r="2.15" fill="#111"/>
<circle cx="270.80" cy="240.60" r="2.15" fill="#111"/>
<circle cx="270.80" cy="248.40" r="2.15" fill="#111"/>
<line x1="261.00" y1="225.30" x2="280.40" y2="225.30" stroke="#222" stroke-width="1.0"/>
<path d="M297.40 252.04L301.40 252.04L299.40 247.96Z" fill="#111"/>
<path d="M295.00 261.04L299.00 261.04L297.00 256.96Z" fill="#111"/>
<path d="M301.00 261.04L305.00 261.04L303.00 256.96Z" fill="#111"/>
<path d="M292.00 264.04L296.00 264.04L294.00 259.96Z" fill="#111"/>
<path d="M298.00 266.04L302.00 266.04L300.00 261.96Z" fill="#111"/>
<path d="M304.00 266.04L308.00 266.04L306.00 261.96Z" fill="#111"/>
<path d="M295.00 274.04L299.00 274.04L297.00 269.96Z" fill="#111"/>
<path d="M301.00 275.04L305.00 275.04L303.00 270.96Z" fill="#111"/>
<path d="M295.00 277.04L299.00 277.04L297.00 272.96Z" fill="#111"/>
<path d="M301.00 278.04L305.00 278.04L303.00 273.96Z" fill="#111"/>
<path d="M295.00 283.04L299.00 283.04L297.00 278.96Z" fill="#111"/>
<path d="M295.00 286.04L299.00 286.04L297.00 281.96Z" fill="#111"/>
<path d="M295.00 288.04L299.00 288.04L297.00 283.96Z" fill="#111"/>
<path d="M301.00 285.04L305.00 285.04L303.00 280.96Z" fill="#111"/>
<path d="M301.00 291.04L305.00 291.04L303.00 286.96Z" fill="#111"/>
<path d="M297.40 302.64L301.40 302.64L299.40 298.56Z" fill="#111"/>
<line x1="290.00" y1="274.60" x2="309.40" y2="274.60" stroke="#222" stroke-width="1.0"/>
<path d="M324.00 248.96L328.00 248.96L326.00 253.04Z" fill="#111"/>
<path d="M329.40 252.96L333.40 252.96L331.40 257.04Z" fill="#111"/>
<path d="M321.00 263.96L325.00 263.96L323.00 268.04Z" fill="#111"/>
<path d="M321.00 266.96L325.00 266.96L323.00 271.04Z" fill="#111"/>
<path d="M326.00 264.96L330.00 264.96L328.00 269.04Z" fill="#111"/>
<path d="M332.00 267.36L336.00 267.36L334.00 271.44Z" fill="#111"/>
<path d="M325.00 269.96L329.00 269.96L327.00 274.04Z" fill="#111"/>
<path d="M329.40 275.96L333.40 275.96L331.40 280.04Z" fill="#111"/>
<path d="M324.00 281.96L328.00 281.96L326.00 286.04Z" fill="#111"/>
<path d="M324.00 286.96L328.00 286.96L326.00 291.04Z" fill="#111"/>
<path d="M329.40 292.96L333.40 292.96L331.40 297.04Z" fill="#111"/>
<path d="M329.40 295.36L333.40 295.36L331.40 299.44Z" fill="#111"/>
<path d="M324.00 298.56L328.00 298.56L326.00 302.64Z" fill="#111"/>
<line x1="319.40" y1="273.40" x2="339.00" y2="273.40" stroke="#222" stroke-width="1.0"/>
<line x1="371.00" y1="210.80" x2="371.00" y2="302.60" stroke="#4a4a4a" stroke-width="1.6"/>
<line x1="368.00" y1="302.60" x2="371.00" y2="302.60" stroke="#333" stroke-width="1.2"/>
<text x="367.70" y="305.20" font-size="7.4" text-anchor="end" font-weight="bold" fill="#111" stroke="#111" stroke-width="0.25">0</text>
<line x1="368.00" y1="284.36" x2="371.00" y2="284.36" stroke="#333" stroke-width="1.2"/>
<text x="367.70" y="286.96" font-size="7.4" text-anchor="end" font-weight="bold" fill="#111" stroke="#111" stroke-width="0.25">20</text>
<line x1="368.00" y1="266.12" x2="371.00" y2="266.12" stroke="#333" stroke-width="1.2"/>
<text x="367.70" y="268.72" font-size="7.4" text-anchor="end" font-weight="bold" fill="#111" stroke="#111" stroke-width="0.25">40</text>
<line x1="368.00" y1="247.88" x2="371.00" y2="247.88" stroke="#333" stroke-width="1.2"/>
<text x="367.70" y="250.48" font-size="7.4" text-anchor="end" font-weight="bold" fill="#111" stroke="#111" stroke-width="0.25">60</text>
<line x1="368.00" y1="229.64" x2="371.00" y2="229.64" stroke="#333" stroke-width="1.2"/>
<text x="367.70" y="232.24" font-size="7.4" text-anchor="end" font-weight="bold" fill="#111" stroke="#111" stroke-width="0.25">80</text>
<line x1="368.00" y1="211.40" x2="371.00" y2="211.40" stroke="#333" stroke-width="1.2"/>
<text x="367.70" y="214.00" font-size="7.4" text-anchor="end" font-weight="bold" fill="#111" stroke="#111" stroke-width="0.25">100</text>
<line x1="370.20" y1="302.60" x2="507.50" y2="302.60" stroke="#1a1a1a" stroke-width="1.3"/>
<line x1="371.00" y1="302.60" x2="371.00" y2="305.20" stroke="#333" stroke-width="1.0"/>
<text x="371.00" y="311.60" font-size="7.4" text-anchor="middle" font-weight="bold" fill="#111" stroke="#111" stroke-width="0.25">0</text>
<line x1="405.00" y1="302.60" x2="405.00" y2="305.20" stroke="#333" stroke-width="1.0"/>
<text x="405.00" y="311.60" font-size="7.4" text-anchor="middle" font-weight="bold" fill="#111" stroke="#111" stroke-width="0.25">20</text>
<line x1="439.00" y1="302.60" x2="439.00" y2="305.20" stroke="#333" stroke-width="1.0"/>
<text x="439.00" y="311.60" font-size="7.4" text-anchor="middle" font-weight="bold" fill="#111" stroke="#111" stroke-width="0.25">40</text>
<line x1="473.00" y1="302.60" x2="473.00" y2="305.20" stroke="#333" stroke-width="1.0"/>
<text x="473.00" y="311.60" font-size="7.4" text-anchor="middle" font-weight="bold" fill="#111" stroke="#111" stroke-width="0.25">60</text>
<line x1="507.00" y1="302.60" x2="507.00" y2="305.20" stroke="#333" stroke-width="1.0"/>
<text x="507.00" y="311.60" font-size="7.4" text-anchor="middle" font-weight="bold" fill="#111" stroke="#111" stroke-width="0.25">80</text>
<text x="440.00" y="319.40" font-size="7.4" text-anchor="middle" font-weight="bold" fill="#111" stroke="#111" stroke-width="0.25">GrB Substrate<tspan font-size="70%" baseline-shift="2.4">+</tspan> Targets (%)</text>
<g transform="translate(354.00 256.90) rotate(-90) scale(1 0.92)"><text x="0" y="0" font-size="7.4" text-anchor="middle" font-weight="bold" fill="#111" stroke="#111" stroke-width="0.22">Infected CD4 Elimination (%)</text></g>
<text x="439.00" y="202.50" font-size="6.7" text-anchor="middle" font-weight="bold" fill="#111" stroke="#111" stroke-width="0.25">R=0.9, P&lt;0.001</text>
<circle cx="438.60" cy="211.40" r="2.15" fill="#111"/>
<circle cx="420.60" cy="222.00" r="2.15" fill="#111"/>
<circle cx="444.40" cy="217.60" r="2.15" fill="#111"/>
<circle cx="457.40" cy="218.60" r="2.15" fill="#111"/>
<circle cx="449.60" cy="223.40" r="2.15" fill="#111"/>
<circle cx="451.60" cy="225.00" r="2.15" fill="#111"/>
<circle cx="446.60" cy="225.60" r="2.15" fill="#111"/>
<circle cx="458.60" cy="226.00" r="2.15" fill="#111"/>
<circle cx="461.00" cy="226.60" r="2.15" fill="#111"/>
<circle cx="466.60" cy="227.60" r="2.15" fill="#111"/>
<circle cx="478.60" cy="227.00" r="2.15" fill="#111"/>
<circle cx="444.40" cy="230.00" r="2.15" fill="#111"/>
<circle cx="424.40" cy="236.60" r="2.15" fill="#111"/>
<circle cx="429.00" cy="237.00" r="2.15" fill="#111"/>
<circle cx="435.40" cy="241.60" r="2.15" fill="#111"/>
<circle cx="457.00" cy="241.00" r="2.15" fill="#111"/>
<circle cx="404.80" cy="250.10" r="2.15" fill="#111"/>
<circle cx="421.80" cy="251.40" r="2.15" fill="#111"/>
<circle cx="425.80" cy="248.40" r="2.15" fill="#111"/>
<circle cx="431.40" cy="255.50" r="2.15" fill="#111"/>
<circle cx="399.70" cy="258.20" r="2.15" fill="#111"/>
<circle cx="396.40" cy="262.80" r="2.15" fill="#111"/>
<circle cx="420.80" cy="261.10" r="2.15" fill="#111"/>
<circle cx="425.80" cy="262.80" r="2.15" fill="#111"/>
<circle cx="419.10" cy="266.70" r="2.15" fill="#111"/>
<circle cx="426.20" cy="265.50" r="2.15" fill="#111"/>
<circle cx="408.20" cy="267.90" r="2.15" fill="#111"/>
<circle cx="403.10" cy="268.70" r="2.15" fill="#111"/>
<circle cx="402.60" cy="271.80" r="2.15" fill="#111"/>
<circle cx="402.60" cy="273.00" r="2.15" fill="#111"/>
<circle cx="421.80" cy="271.80" r="2.15" fill="#111"/>
<circle cx="396.40" cy="280.90" r="2.15" fill="#111"/>
<circle cx="402.60" cy="284.00" r="2.15" fill="#111"/>
<circle cx="387.00" cy="258.40" r="2.15" fill="#111"/>
<circle cx="396.60" cy="263.00" r="2.15" fill="#111"/>
<circle cx="400.00" cy="258.40" r="2.15" fill="#111"/>
<circle cx="404.60" cy="250.00" r="2.15" fill="#111"/>
<circle cx="376.90" cy="277.20" r="2.15" fill="#111"/>
<circle cx="380.60" cy="281.50" r="2.15" fill="#111"/>
<circle cx="384.40" cy="275.50" r="2.15" fill="#111"/>
<circle cx="386.00" cy="273.30" r="2.15" fill="#111"/>
<circle cx="391.30" cy="270.50" r="2.15" fill="#111"/>
<circle cx="393.50" cy="271.80" r="2.15" fill="#111"/>
<circle cx="392.80" cy="277.20" r="2.15" fill="#111"/>
<circle cx="396.10" cy="280.40" r="2.15" fill="#111"/>
<circle cx="391.30" cy="283.00" r="2.15" fill="#111"/>
<circle cx="384.90" cy="288.40" r="2.15" fill="#111"/>
<circle cx="390.70" cy="287.80" r="2.15" fill="#111"/>
<circle cx="402.80" cy="284.10" r="2.15" fill="#111"/>
<circle cx="403.20" cy="271.20" r="2.15" fill="#111"/>
<circle cx="402.80" cy="273.30" r="2.15" fill="#111"/>
<circle cx="407.90" cy="267.90" r="2.15" fill="#111"/>
<circle cx="380.50" cy="281.40" r="2.15" fill="#111"/>
<circle cx="391.30" cy="282.80" r="2.15" fill="#111"/>
<circle cx="395.50" cy="281.10" r="2.15" fill="#111"/>
<circle cx="393.60" cy="280.50" r="2.15" fill="#111"/>
<circle cx="384.90" cy="288.10" r="2.15" fill="#111"/>
<circle cx="390.40" cy="287.40" r="2.15" fill="#111"/>
<circle cx="374.20" cy="292.90" r="2.15" fill="#111"/>
<circle cx="373.10" cy="295.20" r="2.15" fill="#111"/>
<circle cx="377.50" cy="298.90" r="2.15" fill="#111"/>
<circle cx="374.20" cy="299.40" r="2.15" fill="#111"/>
<circle cx="389.00" cy="298.30" r="2.15" fill="#111"/>
<circle cx="371.90" cy="301.70" r="2.15" fill="#111"/>
<circle cx="373.80" cy="302.20" r="2.15" fill="#111"/>
<circle cx="370.70" cy="302.90" r="2.15" fill="#111"/>
<circle cx="379.80" cy="302.30" r="2.15" fill="#111"/>
<circle cx="383.90" cy="301.70" r="2.15" fill="#111"/>
<path d="M466.60 241.70L468.90 244.00L466.60 246.30L464.30 244.00Z" fill="none" stroke="#111" stroke-width="1.0"/>
<path d="M439.90 254.50L439.90 259.30M438.36 255.84L441.44 255.84" stroke="#111" stroke-width="1.0"/>
<path d="M425.50 267.00L428.90 270.40M428.90 267.00L425.50 270.40" stroke="#111" stroke-width="1.1"/>
<path d="M420.10 269.30L420.89 271.21L422.95 271.37L421.38 272.72L421.86 274.73L420.10 273.65L418.34 274.73L418.82 272.72L417.25 271.37L419.31 271.21Z" fill="#6a6a6a"/>
</svg></body></html>
